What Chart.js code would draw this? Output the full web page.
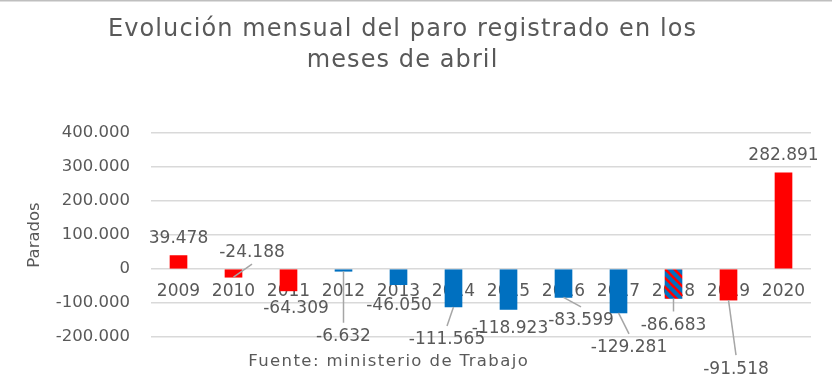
<!DOCTYPE html>
<html>
<head>
<meta charset="utf-8">
<script src="https://cdn.jsdelivr.net/npm/chart.js@4/dist/chart.umd.min.js"></script>
<style>
html,body{margin:0;padding:0;background:#fff;}
#wrap{width:832px;height:382px;position:relative;}
</style>
</head>
<body>
<div id="wrap"><canvas id="c" width="832" height="382"></canvas></div>
<script>
const categories = ['2009','2010','2011','2012','2013','2014','2015','2016','2017','2018','2019','2020'];
const paroValues = [39478, -24188, -64309, -6632, -46050, -111565, -118923, -83599, -129281, -86683, -91518, 282891];
const valueLabels = ['39.478','-24.188','-64.309','-6.632','-46.050','-111.565','-118.923','-83.599','-129.281','-86.683','-91.518','282.891'];
const yTickValues = [400000, 300000, 200000, 100000, 0, -100000, -200000];
const yTickLabels = ['400.000','300.000','200.000','100.000','0','-100.000','-200.000'];
const titleLines = ['Evolución mensual del paro registrado en los', 'meses de abril'];
const sourceText = 'Fuente: ministerio de Trabajo';
const yAxisTitle = 'Parados';

const RED = '#FF0000', BLUE = '#0070C0', GRAY = '#595959';

function stripePattern() {
  const s = 9;
  const pc = document.createElement('canvas');
  pc.width = s; pc.height = s;
  const p = pc.getContext('2d');
  p.fillStyle = BLUE; p.fillRect(0, 0, s, s);
  p.strokeStyle = RED; p.lineWidth = 2.6;
  p.beginPath();
  for (let k = -1; k <= 1; k++) {
    p.moveTo(k * s - 1, -1);
    p.lineTo(k * s + s + 1, s + 1);
  }
  p.stroke();
  return document.getElementById('c').getContext('2d').createPattern(pc, 'repeat');
}

const barColors = [RED, RED, RED, BLUE, BLUE, BLUE, BLUE, BLUE, BLUE, stripePattern(), RED, RED];

// label placement relative to bar end (px), and whether a leader line is drawn
const labelOffsets = [
  [0, -17, false], [18.5, -25, true], [7.5, 18, false], [0, 65.5, true],
  [0.5, 21, false], [-6.5, 33, true], [1.5, 19.5, false], [17.5, 23.5, true],
  [10.5, 35, true], [0, 27, true], [7.5, 69, true], [0, -17, false]
];

const FONT = "'DejaVu Sans', sans-serif";

function spacedText(ctx, text, x, y, spacing) {
  if ('letterSpacing' in ctx) {
    ctx.letterSpacing = spacing + 'px';
    ctx.fillText(text, x + spacing / 2, y);
    ctx.letterSpacing = '0px';
  } else {
    ctx.fillText(text, x, y);
  }
}

const decorPlugin = {
  id: 'decor',
  afterDraw(chart) {
    const ctx = chart.ctx;
    ctx.save();
    // top border
    ctx.strokeStyle = '#bfbfbf'; ctx.lineWidth = 1.5;
    ctx.beginPath(); ctx.moveTo(0, 0.75); ctx.lineTo(832, 0.75); ctx.stroke();
    // title
    ctx.fillStyle = GRAY;
    ctx.textAlign = 'center'; ctx.textBaseline = 'alphabetic';
    ctx.font = "24px " + FONT;
    spacedText(ctx, titleLines[0], 402, 36, 1.1);
    spacedText(ctx, titleLines[1], 402, 67, 1.1);
    // source
    ctx.font = "16.5px " + FONT;
    ctx.textBaseline = 'middle';
    spacedText(ctx, sourceText, 388, 362, 1.4);
    // data labels
    const meta = chart.getDatasetMeta(0);
    ctx.font = "17px " + FONT;
    meta.data.forEach((bar, i) => {
      const [dx, dy, leader] = labelOffsets[i];
      const lx = bar.x + dx, ly = bar.y + dy;
      if (leader) {
        const ey = dy > 0 ? ly - 14 : ly + 12;
        ctx.strokeStyle = '#a6a6a6'; ctx.lineWidth = 1.5;
        ctx.beginPath(); ctx.moveTo(bar.x, bar.y); ctx.lineTo(lx, ey); ctx.stroke();
      }
      ctx.fillStyle = GRAY;
      ctx.fillText(valueLabels[i], lx, ly);
    });
    ctx.restore();
  }
};

new Chart(document.getElementById('c'), {
  type: 'bar',
  data: {
    labels: categories,
    datasets: [{
      data: paroValues,
      backgroundColor: barColors,
      barThickness: 17,
      borderWidth: 0
    }]
  },
  options: {
    responsive: false,
    animation: false,
    events: [],
    layout: { padding: { top: 133, bottom: 45, left: 20, right: 21 } },
    plugins: { legend: { display: false }, tooltip: { enabled: false }, title: { display: false } },
    scales: {
      x: {
        position: { y: 0 },
        z: 1,
        grid: { display: false, drawTicks: false },
        border: { display: false },
        ticks: { color: GRAY, font: { family: FONT, size: 17 }, padding: 12, maxRotation: 0, autoSkip: false }
      },
      y: {
        min: -200000, max: 400000,
        afterBuildTicks(scale) { scale.ticks = yTickValues.map(v => ({ value: v })); },
        afterFit(scale) { scale.width = 131; },
        grid: { color: '#d9d9d9', lineWidth: 1.5, drawTicks: false },
        border: { display: false },
        ticks: {
          color: GRAY, font: { family: FONT, size: 16.5 }, padding: 21,
          callback(v) { const i = yTickValues.indexOf(v); return i >= 0 ? yTickLabels[i] : ''; }
        },
        title: { display: true, text: yAxisTitle, color: GRAY, font: { family: FONT, size: 16.5 }, padding: { top: 5, bottom: 0 } }
      }
    }
  },
  plugins: [decorPlugin]
});
</script>
</body>
</html>
